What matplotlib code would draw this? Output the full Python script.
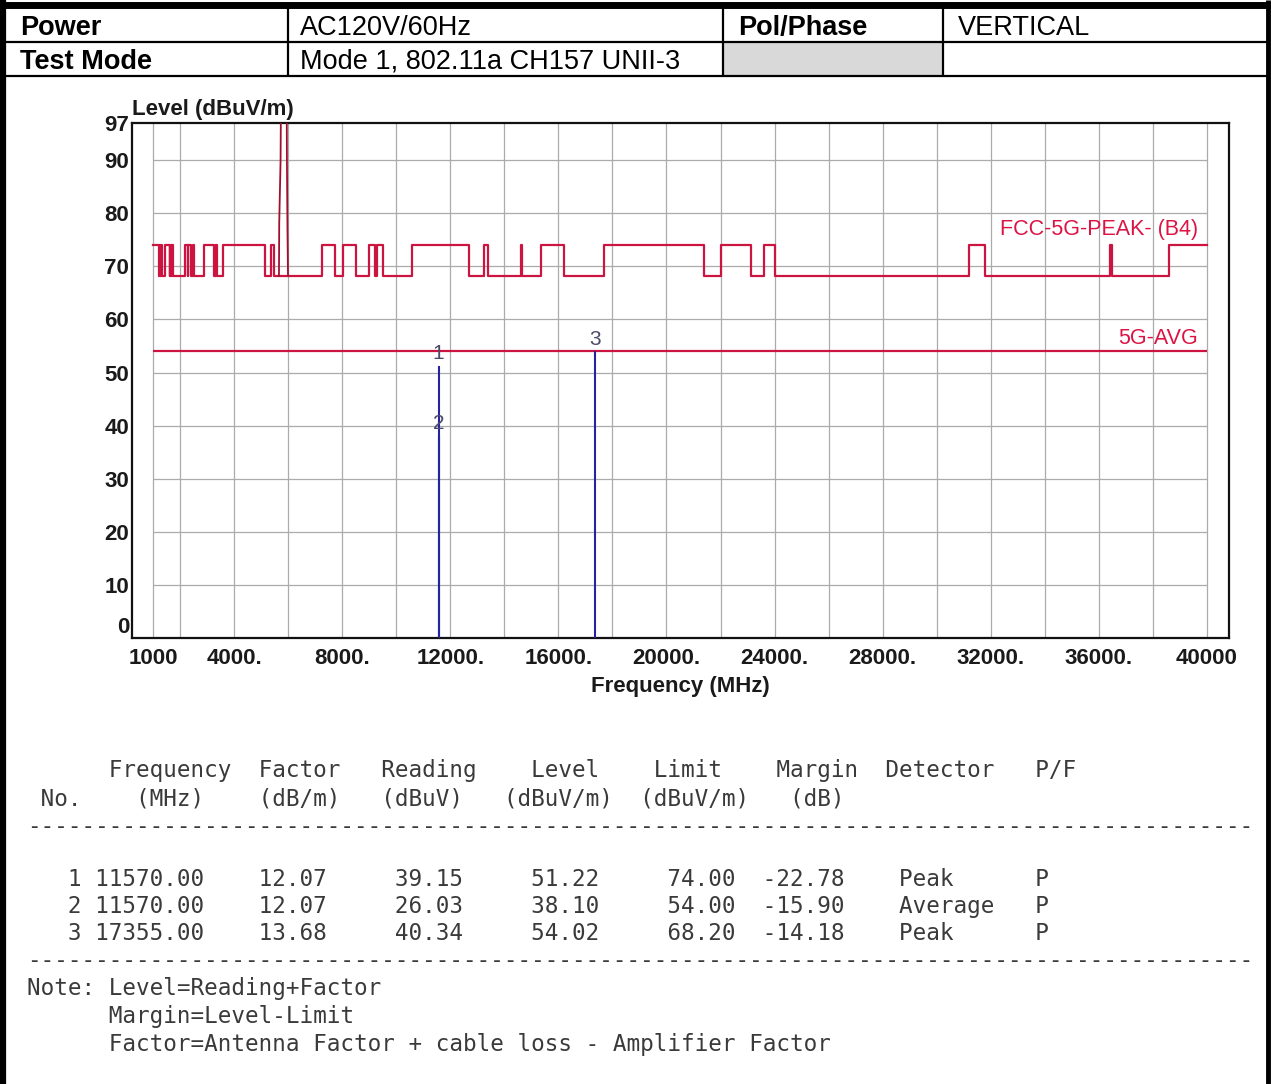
import matplotlib
matplotlib.use("Agg")
import matplotlib.pyplot as plt
from matplotlib.lines import Line2D
from matplotlib.patches import Rectangle

plt.rcParams['font.family'] = ['Liberation Sans', 'DejaVu Sans']

# ---------------- data ----------------
header_labels = ["Power", "Test Mode", "Pol/Phase"]
header_values = ["AC120V/60Hz", "Mode 1, 802.11a CH157 UNII-3", "VERTICAL"]

# Peak limit (FCC-5G-PEAK-(B4)): 74 dBuV/m in these bands, 68.2 elsewhere
peak_hi = 74.0
peak_lo = 68.2
peak_hi_bands = [
    (1000, 1210), (1245, 1265), (1310, 1335), (1435, 1626.5), (1645.5, 1646.5),
    (1660, 1710), (1718.8, 1722.2), (2200, 2300), (2310, 2390), (2483.5, 2500),
    (2900, 3260), (3332, 3339), (3345.8, 3358), (3600, 5150), (5350, 5460),
    (7250, 7750), (8025, 8500), (9000, 9200), (9300, 9500), (10600, 12700),
    (13250, 13400), (14600, 14640), (15350, 16200), (17700, 21400), (22010, 23120),
    (23600, 24000), (31200, 31800), (36430, 36500), (38600, 40000),
]
# Band-edge rise of the peak limit around the fundamental
edge_freq = [5660, 5670, 5720, 5745, 5760, 5930, 5940, 5955, 5975, 5995]
edge_level = [68.2, 78.2, 90.0, 110.8, 122.2, 122.2, 110.8, 90.0, 77.0, 68.2]

avg_limit = 54.0

# Markers
mk_no = [1, 2, 3]
mk_freq = [11570.00, 11570.00, 17355.00]
mk_factor = [12.07, 12.07, 13.68]
mk_reading = [39.15, 26.03, 40.34]
mk_level = [51.22, 38.10, 54.02]
mk_limit = [74.00, 54.00, 68.20]
mk_margin = [-22.78, -15.90, -14.18]
mk_detector = ["Peak", "Average", "Peak"]
mk_pf = ["P", "P", "P"]

xtick_vals = [1000, 4000, 8000, 12000, 16000, 20000, 24000, 28000, 32000, 36000, 40000]
xtick_labels = ["1000", "4000.", "8000.", "12000.", "16000.", "20000.", "24000.",
                "28000.", "32000.", "36000.", "40000"]
ytick_vals = [0, 10, 20, 30, 40, 50, 60, 70, 80, 90, 97]
grid_x = [1000, 2000, 4000, 6000, 8000, 10000, 12000, 14000, 16000, 18000, 20000,
          22000, 24000, 26000, 28000, 30000, 32000, 34000, 36000, 38000, 40000]
grid_y = [10, 20, 30, 40, 50, 60, 70, 80, 90]

# ---------------- figure ----------------
W, H = 1271, 1084
fig = plt.figure(figsize=(W / 100, H / 100), dpi=100)
fig.patch.set_facecolor('white')


def fx(x):
    return x / W


def fy(y):
    return 1 - y / H


def fline(x0, y0, x1, y1, lw, color='black'):
    fig.add_artist(Line2D([fx(x0), fx(x1)], [fy(y0), fy(y1)], transform=fig.transFigure,
                          color=color, lw=lw, solid_capstyle='butt'))


# header table
fig.add_artist(Rectangle((fx(723), fy(76)), fx(943) - fx(723), fy(42) - fy(76),
                         transform=fig.transFigure, facecolor='#d9d9d9', edgecolor='none'))
fline(0, 5, W, 5, 5.0)
fline(3, 0, 3, H, 4.5)
fline(1268, 0, 1268, H, 3.5)
fline(3, 42, 1268, 42, 1.6)
fline(3, 76, 1268, 76, 1.6)
for xc in [288, 723, 943]:
    fline(xc, 7, xc, 76, 1.6)

hdr_fs = 19.5
r1, r2 = 28, 62
fig.text(fx(20), fy(r1), header_labels[0], fontsize=hdr_fs, fontweight='bold', va='center')
fig.text(fx(20), fy(r2), header_labels[1], fontsize=hdr_fs, fontweight='bold', va='center')
fig.text(fx(738), fy(r1), header_labels[2], fontsize=hdr_fs, fontweight='bold', va='center')
fig.text(fx(300), fy(r1), header_values[0], fontsize=hdr_fs, va='center')
fig.text(fx(300), fy(r2), header_values[1], fontsize=hdr_fs, va='center')
fig.text(fx(958), fy(r1), header_values[2], fontsize=hdr_fs, va='center')

# chart axes
ax_l, ax_r, ax_t, ax_b = 132, 1229, 123, 638
ax = fig.add_axes([fx(ax_l), fy(ax_b), fx(ax_r) - fx(ax_l), fy(ax_t) - fy(ax_b)])
ax.set_xlim(222, 40815)
ax.set_ylim(0, 97)
for s in ax.spines.values():
    s.set_linewidth(1.6)
    s.set_color('#111111')

ax.vlines(grid_x, 0, 97, colors='#ababab', lw=0.9, zorder=1)
ax.hlines(grid_y, 1000, 40000, colors='#ababab', lw=0.9, zorder=1)

# peak limit step line
xs, ys = [], []
pos = 1000
for (a, b) in peak_hi_bands:
    if a > pos:
        xs += [pos, a]
        ys += [peak_lo, peak_lo]
    xs += [a, b]
    ys += [peak_hi, peak_hi]
    pos = b
if pos < 40000:
    xs += [pos, 40000]
    ys += [peak_lo, peak_lo]
line_col = '#cc1440'
ax.plot(xs, ys, color=line_col, lw=1.6, zorder=3)
ax.plot(edge_freq, edge_level, color='#a0102e', lw=1.3, zorder=3)
ax.hlines(avg_limit, 1000, 40000, colors=line_col, lw=1.6, zorder=3)

lab_col = '#dc1444'
ax.text(39670, 77.0, "FCC-5G-PEAK- (B4)", color=lab_col, fontsize=15.5, ha='right',
        va='center', zorder=4)
ax.text(39670, 56.5, "5G-AVG", color=lab_col, fontsize=15.5, ha='right', va='center', zorder=4)

# markers
mk_col = '#2424a0'
ax.vlines(mk_freq, 0, mk_level, colors=mk_col, lw=1.5, zorder=5)
for n, f, lv in zip(mk_no, mk_freq, mk_level):
    ax.text(f, lv + 0.5, str(n), color='#4a4a6a', fontsize=15, ha='center', va='bottom',
            zorder=6)

# ticks
tick_font = dict(fontsize=16, fontweight='bold', color='#1a1a1a')
ax.set_xticks(xtick_vals)
ax.set_xticklabels(xtick_labels, **tick_font)
ax.set_yticks(ytick_vals)
ax.set_yticklabels([str(v) for v in ytick_vals], **tick_font)
ax.tick_params(axis='both', length=0)
ax.tick_params(axis='x', pad=7)
ax.tick_params(axis='y', pad=2)
ax.yaxis.get_major_ticks()[0].label1.set_verticalalignment('bottom')
ax.set_xlabel("Frequency (MHz)", fontsize=16, fontweight='bold', color='#1a1a1a', labelpad=5)
ax.text(0.0, 1.006, "Level (dBuV/m)", transform=ax.transAxes, fontsize=16,
        fontweight='bold', color='#1a1a1a', ha='left', va='bottom')

# ---------------- data table ----------------
mono = dict(family='DejaVu Sans Mono', fontsize=16.3, color='#3a3a3a', va='center')
x0 = 27


def make_row(fields, n=92):
    s = [' '] * n
    for col, txt in fields:
        s[col:col + len(txt)] = list(txt)
    return ''.join(s).rstrip()


lines = []
lines.append((770, make_row([(6, "Frequency"), (17, "Factor"), (26, "Reading"), (37, "Level"),
                             (46, "Limit"), (55, "Margin"), (63, "Detector"), (74, "P/F")])))
lines.append((799, make_row([(1, "No."), (8, "(MHz)"), (17, "(dB/m)"), (26, "(dBuV)"),
                             (35, "(dBuV/m)"), (45, "(dBuV/m)"), (56, "(dB)")])))
lines.append((827, '-' * 90))
for i in range(len(mk_no)):
    y = 880 + 27 * i
    lines.append((y, make_row([(3, str(mk_no[i])), (5, f"{mk_freq[i]:.2f}"),
                               (17, f"{mk_factor[i]:.2f}"), (27, f"{mk_reading[i]:.2f}"),
                               (37, f"{mk_level[i]:.2f}"), (47, f"{mk_limit[i]:.2f}"),
                               (54, f"{mk_margin[i]:.2f}"), (64, mk_detector[i]),
                               (74, mk_pf[i])])))
lines.append((961, '-' * 90))
lines.append((989, "Note: Level=Reading+Factor"))
lines.append((1016, "      Margin=Level-Limit"))
lines.append((1044, "      Factor=Antenna Factor + cable loss - Amplifier Factor"))
for y, txt in lines:
    fig.text(fx(x0), fy(y), txt, **mono)

fig.savefig("out.png", dpi=100)
